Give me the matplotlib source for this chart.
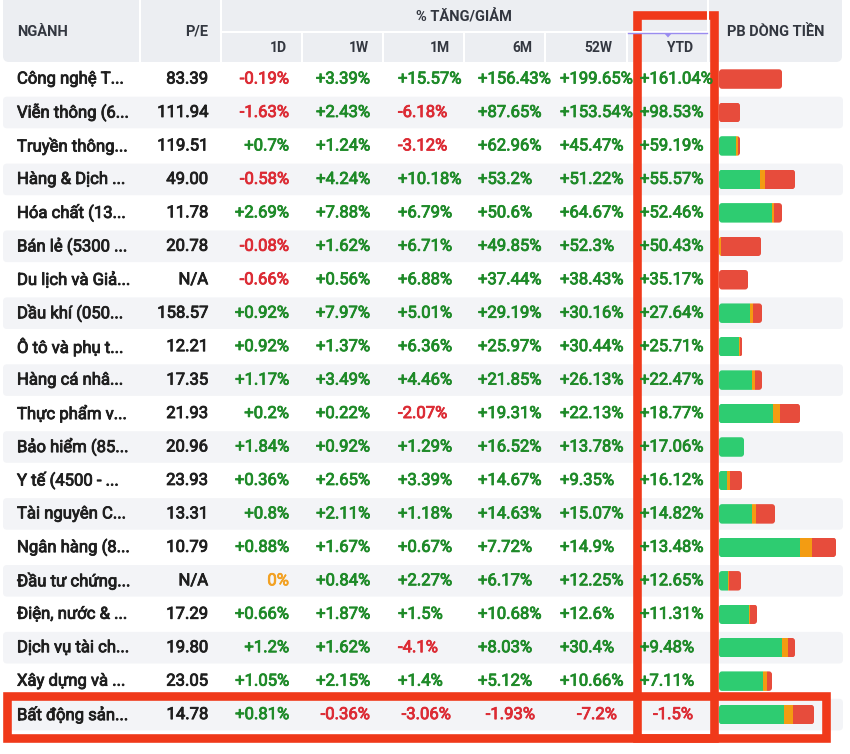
import matplotlib
matplotlib.use("Agg")
import matplotlib.pyplot as plt
import matplotlib.patheffects as pe_fx
from matplotlib.patches import FancyBboxPatch, Rectangle, Polygon
import numpy as np

plt.rcParams['font.family'] = ['Roboto', 'DejaVu Sans']

names = ["Công nghệ T...", "Viễn thông (6...", "Truyền thông...", "Hàng & Dịch ...",
         "Hóa chất (13...", "Bán lẻ (5300 ...", "Du lịch và Giả...", "Dầu khí (050...",
         "Ô tô và phụ t...", "Hàng cá nhâ...", "Thực phẩm v...", "Bảo hiểm (85...",
         "Y tế (4500 - ...", "Tài nguyên C...", "Ngân hàng (8...", "Đầu tư chứng...",
         "Điện, nước & ...", "Dịch vụ tài ch...", "Xây dựng và ...", "Bất động sản..."]
pe = [83.39, 111.94, 119.51, 49.00, 11.78, 20.78, None, 158.57, 12.21, 17.35,
      21.93, 20.96, 23.93, 13.31, 10.79, None, 17.29, 19.80, 23.05, 14.78]
d1 = [-0.19, -1.63, 0.7, -0.58, 2.69, -0.08, -0.66, 0.92, 0.92, 1.17,
      0.2, 1.84, 0.36, 0.8, 0.88, 0, 0.66, 1.2, 1.05, 0.81]
w1 = [3.39, 2.43, 1.24, 4.24, 7.88, 1.62, 0.56, 7.97, 1.37, 3.49,
      0.22, 0.92, 2.65, 2.11, 1.67, 0.84, 1.87, 1.62, 2.15, -0.36]
m1 = [15.57, -6.18, -3.12, 10.18, 6.79, 6.71, 6.88, 5.01, 6.36, 4.46,
      -2.07, 1.29, 3.39, 1.18, 0.67, 2.27, 1.5, -4.1, 1.4, -3.06]
m6 = [156.43, 87.65, 62.96, 53.2, 50.6, 49.85, 37.44, 29.19, 25.97, 21.85,
      19.31, 16.52, 14.67, 14.63, 7.72, 6.17, 10.68, 8.03, 5.12, -1.93]
w52 = [199.65, 153.54, 45.47, 51.22, 64.67, 52.3, 38.43, 30.16, 30.44, 26.13,
       22.13, 13.78, 9.35, 15.07, 14.9, 12.25, 12.6, 30.4, 10.66, -7.2]
ytd = [161.04, 98.53, 59.19, 55.57, 52.46, 50.43, 35.17, 27.64, 25.71, 22.47,
       18.77, 17.06, 16.12, 14.82, 13.48, 12.65, 11.31, 9.48, 7.11, -1.5]

# PB dong tien bars (green / orange / red parts)
flow_green = [0, 0, 17.5, 41, 53, 0, 0, 31, 20, 33, 54, 25, 8, 33, 81, 9, 30, 63, 44, 65]
flow_orange = [0, 0, 1.5, 5, 2, 2, 0, 3, 1, 3, 7, 0, 3, 4, 12, 1, 1, 6, 4, 9]
flow_red = [63, 21, 2, 30, 8, 40, 29, 9, 2.5, 7, 20, 0, 12, 19, 24, 12, 7, 7, 5, 21]

GREEN = "#1e8a28"
RED = "#dc2b34"
ORANGE = "#f2a122"
TXT = "#1f1f1f"
HEAD = "#333740"

def fmt_pct(v):
    if v == 0:
        return "0%"
    return f"{v:+g}%"

def pct_color(v):
    if v > 0:
        return GREEN
    if v < 0:
        return RED
    return ORANGE

def put(x, y, s, ha, color):
    # a thin stroke gives the medium weight of the original
    ax.text(x, y, s, ha=ha, va='center', fontsize=12, color=color,
            path_effects=[pe_fx.withStroke(linewidth=0.6, foreground=color)])

fig = plt.figure(figsize=(8.5, 7.54), dpi=100)
ax = fig.add_axes([0, 0, 1, 1])
ax.set_xlim(0, 850)
ax.set_ylim(754, 0)
ax.axis('off')

# header
ax.add_patch(FancyBboxPatch((3, -10), 839, 72, boxstyle="round,pad=0,rounding_size=6",
                            fc="#eceef2", ec="none"))
for x in [140, 221, 708]:
    ax.plot([x, x], [0, 62], color="white", lw=1.5)
for x in [302, 383, 464, 545, 627]:
    ax.plot([x, x], [32, 62], color="white", lw=1.5)
ax.plot([221, 708], [31.5, 31.5], color="white", lw=1.5)

hk = dict(fontsize=10.5, fontweight='bold', color=HEAD, va='center')
ax.text(17, 32, "NGÀNH", ha='left', **hk)
ax.text(208, 32, "P/E", ha='right', **hk)
ax.text(464, 16, "% TĂNG/GIẢM", ha='center', **hk)
ax.text(727, 32, "PB DÒNG TIỀN", ha='left', **hk)
sub = ["1D", "1W", "1M", "6M", "52W", "YTD"]
sub_x = [287, 369, 450, 532, 612, 693]
for s, x in zip(sub, sub_x):
    ax.text(x, 47.5, s, ha='right', fontsize=10, fontweight='bold', color=HEAD, va='center')

# sort marker on YTD
ax.plot([628, 707], [33, 33], color="#9a8cf0", lw=1)
ax.add_patch(Polygon([[664, 33], [672, 33], [668, 37.5]], closed=True, fc="#9a8cf0", ec="none"))

# rows
y0 = 79.05
pitch = 33.45
ys = y0 + pitch * np.arange(len(names))

for i, y in enumerate(ys):
    if i % 2 == 1:
        ax.add_patch(FancyBboxPatch((3, y - 15.8), 840, 31.6,
                                    boxstyle="round,pad=0,rounding_size=4",
                                    fc="#f3f4f7", ec="none"))

for i, y in enumerate(ys):
    put(17, y, names[i], 'left', TXT)
    put(208, y, "N/A" if pe[i] is None else f"{pe[i]:.2f}", 'right', TXT)
    put(289, y, fmt_pct(d1[i]), 'right', pct_color(d1[i]))
    put(370, y, fmt_pct(w1[i]), 'right', pct_color(w1[i]))
    if i == len(names) - 1:
        put(451, y, fmt_pct(m1[i]), 'right', pct_color(m1[i]))
        put(535, y, fmt_pct(m6[i]), 'right', pct_color(m6[i]))
        put(617, y, fmt_pct(w52[i]), 'right', pct_color(w52[i]))
        put(673, y, fmt_pct(ytd[i]), 'center', pct_color(ytd[i]))
    else:
        put(398, y, fmt_pct(m1[i]), 'left', pct_color(m1[i]))
        put(478, y, fmt_pct(m6[i]), 'left', pct_color(m6[i]))
        put(560, y, fmt_pct(w52[i]), 'left', pct_color(w52[i]))
        put(640, y, fmt_pct(ytd[i]), 'left', pct_color(ytd[i]))

# PB dong tien stacked bars
g = np.array(flow_green)
o = np.array(flow_orange)
r = np.array(flow_red)
bx = 719
bh = 19.5
bars_g = ax.barh(ys, g, left=bx, height=bh, color="#2ecc71")
bars_o = ax.barh(ys, o, left=bx + g, height=bh, color="#f39c12")
bars_r = ax.barh(ys, r, left=bx + g + o, height=bh, color="#e74c3c")
tot = g + o + r
for i, y in enumerate(ys):
    clip = FancyBboxPatch((bx, y - bh / 2), tot[i], bh, boxstyle="round,pad=0,rounding_size=3",
                          fc="none", ec="none")
    ax.add_patch(clip)
    for bars in (bars_g, bars_o, bars_r):
        bars[i].set_clip_path(clip)

# red highlight boxes
BOX = "#f0391a"
ax.add_patch(Rectangle((637.2, 14.5), 77.3, 723.5, fill=False, ec=BOX, lw=6.2, joinstyle='miter'))
ax.add_patch(Rectangle((7.5, 695.5), 818.5, 42.5, fill=False, ec=BOX, lw=6.2, joinstyle='miter'))

fig.savefig("out.png", dpi=100)
